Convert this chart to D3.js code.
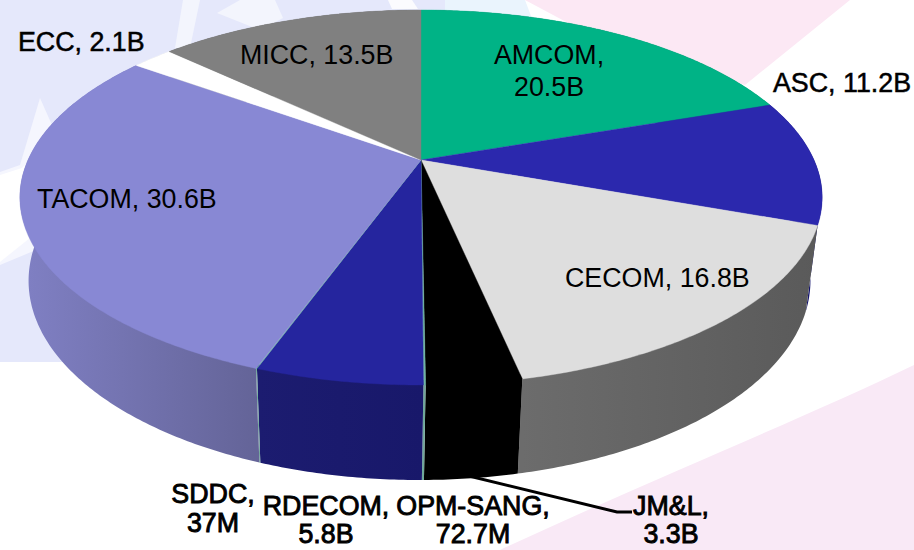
<!DOCTYPE html>
<html>
<head>
<meta charset="utf-8">
<script src="https://cdn.jsdelivr.net/npm/d3@7"></script>
<style>
  html, body { margin: 0; padding: 0; background: #fff; }
  svg { display: block; }
  text { font-family: "Liberation Sans", Arial, sans-serif; fill: #000; }
</style>
</head>
<body>
<svg id="chart" width="914" height="550"></svg>
<script>
const commands = ["AMCOM", "ASC", "CECOM", "JM&L", "OPM-SANG", "RDECOM", "SDDC", "TACOM", "ECC", "MICC"];
// billions of dollars
const values = [20.5, 11.2, 16.8, 3.3, 0.0727, 5.8, 0.037, 30.6, 2.1, 13.5];
const valueLabels = ["20.5B", "11.2B", "16.8B", "3.3B", "72.7M", "5.8B", "37M", "30.6B", "2.1B", "13.5B"];

const topColors = ["#00b386", "#2b28ad", "#dedede", "#000000", "#6fb5a5", "#25259e", "#6fb5a5", "#8888d4", "#ffffff", "#808080"];
const wallFrom = ["#008060", "#14146e", "#6c6c6c", "#000000", "#6fa89a", "#1c1c70", "#6fa89a", "#8080c4", "#cccccc", "#555555"];
const wallTo = ["#008060", "#14146e", "#5a5a5a", "#000000", "#6fa89a", "#18186a", "#6fa89a", "#646498", "#cccccc", "#555555"];

const svg = d3.select("#chart");

// faded flag behind the pie
const bg = svg.append("g");
bg.append("path").attr("fill", "#e5e8fb")
  .attr("d", "M0,0H445L445,60H150L70,362H0Z");
bg.append("path").attr("fill", "#eaf4fd")
  .attr("d", "M445,0H525L540,40L445,40Z");
bg.append("path").attr("fill", "#f3f5fd")
  .attr("d", "M183,0H200L190,48H175Z");
bg.append("path").attr("fill", "#f3f5fd")
  .attr("d", "M217,13L240,0H275L283,18L260,30Z");
bg.append("path").attr("fill", "#fbfbfe")
  .attr("d", "M388,0H412L418,9H392Z");
bg.append("path").attr("fill", "#f5f6fe")
  .attr("d", "M0,172L20,165L40,98L52,125L60,240L0,265Z");
bg.append("path").attr("fill", "#fff")
  .attr("d", "M0,175L22,168L40,150L40,230L0,262Z");
bg.append("path").attr("fill", "#fce8f4")
  .attr("d", "M525,0H850L745,85L600,40Z");
bg.append("path").attr("fill", "#f9e9f6")
  .attr("d", "M914,365C800,420 650,480 500,550H914Z");

// tilted disc: circle coordinates go through a homography
const cx = 421, cy = 160;
const sx = 393, sy = 180, sz = 84;
const tiltV = -0.2, tiltZ = 0.025, skewX = -1.5;

function project(angle, z) {
  const u = Math.sin(angle), v = -Math.cos(angle);
  const w = 1 + tiltV * v + tiltZ * z;
  return [cx + skewX * z + sx * u / w, cy + (sy * v + sz * z) / w];
}

const pie = d3.pie().sort(null).value((d) => d);
const arcs = pie(values);
const line = d3.line();

function anglesOf(d) {
  const steps = Math.max(2, Math.ceil((d.endAngle - d.startAngle) / 0.01));
  return d3.range(steps + 1).map((i) => d.startAngle + (d.endAngle - d.startAngle) * i / steps);
}

function rim(d, z) {
  return anglesOf(d).map((a) => project(a, z));
}

// upper edge of a wall tucks under the front of the top face, so no seam shows
function wallTop(d) {
  return anglesOf(d).map((a) => project(a, -0.05 * Math.max(0, -Math.cos(a))));
}

const defs = svg.append("defs");
arcs.forEach(function (d, i) {
  const xs = d3.extent(rim(d, 0), (p) => p[0]);
  const grad = defs.append("linearGradient")
    .attr("id", "wall" + i)
    .attr("gradientUnits", "userSpaceOnUse")
    .attr("x1", xs[0]).attr("y1", 0)
    .attr("x2", xs[1] + 0.1).attr("y2", 0);
  grad.append("stop").attr("offset", 0).attr("stop-color", wallFrom[i]);
  grad.append("stop").attr("offset", 1).attr("stop-color", wallTo[i]);
});

svg.append("g").selectAll("path")
  .data(arcs)
  .join("path")
  .attr("d", (d) => line(wallTop(d).concat(rim(d, 1).reverse())) + "Z")
  .attr("fill", (d) => "url(#wall" + d.index + ")");

svg.append("g").selectAll("path")
  .data(arcs)
  .join("path")
  .attr("d", (d) => line([[cx, cy]].concat(rim(d, 0))) + "Z")
  .attr("fill", (d) => topColors[d.index])
  .attr("stroke", (d) => topColors[d.index])
  .attr("stroke-width", 0.4);

// JM&L leader
svg.append("path")
  .attr("d", "M440,469L617,512H632")
  .attr("fill", "none")
  .attr("stroke", "#000")
  .attr("stroke-width", 3);

const labelLayout = {
  "AMCOM": { x: 549, y: 64, bold: 0, step: 32 },
  "ASC": { x: 773, y: 92, bold: 0.5, anchor: "start" },
  "CECOM": { x: 565, y: 287, bold: 0, anchor: "start" },
  "JM&L": { x: 671, y: 515, bold: 0.9, step: 28 },
  "OPM-SANG": { x: 473, y: 515, bold: 0.9, step: 28 },
  "RDECOM": { x: 326, y: 515, bold: 0.9, step: 28 },
  "SDDC": { x: 213, y: 503, bold: 0.9, step: 29 },
  "TACOM": { x: 37, y: 208, bold: 0, anchor: "start" },
  "ECC": { x: 18, y: 51, bold: 0.5, anchor: "start" },
  "MICC": { x: 240, y: 64, bold: 0, anchor: "start" }
};

const labels = svg.append("g").selectAll("text")
  .data(commands)
  .join("text")
  .attr("font-size", 26.8)
  .attr("stroke", (d) => labelLayout[d].bold ? "#000" : "none")
  .attr("stroke-width", (d) => labelLayout[d].bold)
  .attr("text-anchor", (d) => labelLayout[d].anchor || "middle")
  .attr("transform", (d) => "translate(" + labelLayout[d].x + "," + labelLayout[d].y + ")");

labels.each(function (name, i) {
  const t = d3.select(this);
  const step = labelLayout[name].step;
  if (step) {
    t.append("tspan").attr("x", 0).attr("y", 0).text(name + ",");
    t.append("tspan").attr("x", 0).attr("y", step).text(valueLabels[i]);
  } else {
    t.text(name + ", " + valueLabels[i]);
  }
});
</script>
</body>
</html>
